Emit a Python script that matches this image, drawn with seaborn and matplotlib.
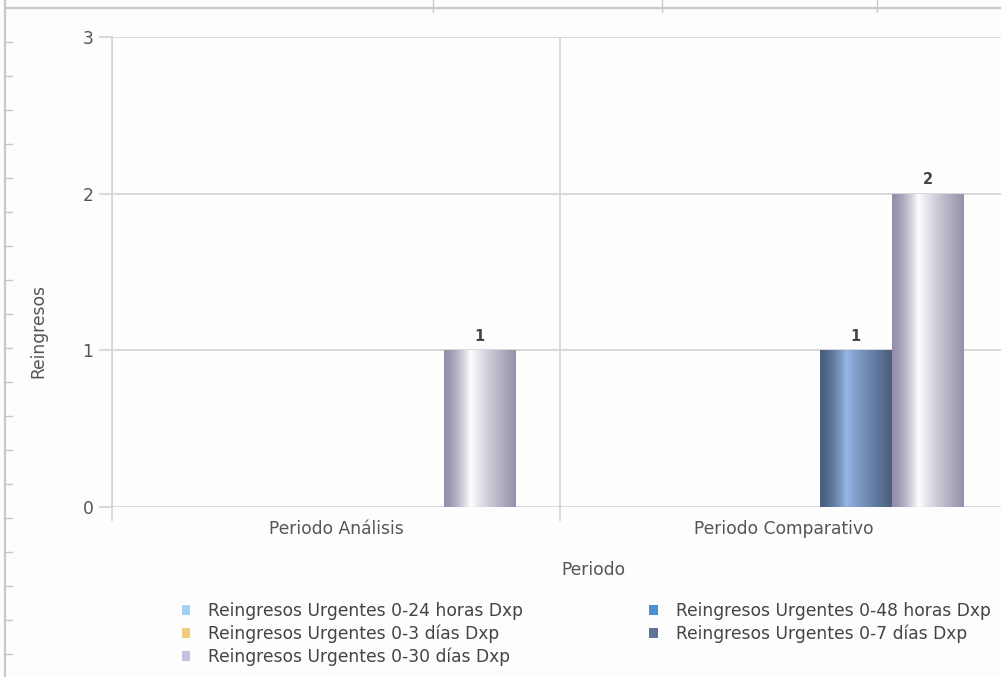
import numpy as np
import pandas as pd
import matplotlib
matplotlib.use("Agg")
import matplotlib.pyplot as plt
from matplotlib.lines import Line2D
from matplotlib.patches import Patch
from matplotlib.colors import to_rgb
import seaborn as sns

# ---- data ----
periodos = ["Periodo Análisis", "Periodo Comparativo"]
series = [
    "Reingresos Urgentes 0-24 horas Dxp",
    "Reingresos Urgentes 0-48 horas Dxp",
    "Reingresos Urgentes 0-3 días Dxp",
    "Reingresos Urgentes 0-7 días Dxp",
    "Reingresos Urgentes 0-30 días Dxp",
]
valores_analisis = [0, 0, 0, 0, 1]
valores_comparativo = [0, 0, 0, 1, 2]
y_ticks = [0, 1, 2, 3]

# flat legend colours and (edge, highlight) colours of the shaded bars
colores = ["#9fd2f6", "#4a8ed6", "#f1cc7c", "#5f7399", "#cabfe2"]
sombras = [
    ("#6f9cc0", "#d6efff"),
    ("#2f5f96", "#8fc0f0"),
    ("#b8924a", "#fff0c8"),
    ("#4a5e7e", "#97b8e8"),
    ("#968fab", "#ffffff"),
]

df = pd.DataFrame({
    "Periodo": np.repeat(periodos, len(series)),
    "Serie": series * len(periodos),
    "Reingresos": valores_analisis + valores_comparativo,
})

W, H = 1001, 677
FS = 12.3
sns.set_theme(style="white")
plt.rcParams["font.family"] = ["DejaVu Sans"]
fig = plt.figure(figsize=(W / 100, H / 100), dpi=100, facecolor="#fdfdfd")

ax_left, ax_bottom, ax_top = 112, 170, 640
ax = fig.add_axes([ax_left / W, ax_bottom / H, (W - ax_left) / W, (ax_top - ax_bottom) / H])
ax.set_facecolor("#fdfdfd")

sns.barplot(data=df, x="Periodo", y="Reingresos", hue="Serie", hue_order=series,
            order=periodos, palette=colores, width=0.8, ax=ax, linewidth=0,
            legend=False, zorder=3)

xlim = (-0.5, 1.484)
ylim = (0, 3)


def sombrear(patch, oscuro, claro):
    x0, y0 = patch.get_x(), patch.get_y()
    w, h = patch.get_width(), patch.get_height()
    if h <= 0:
        patch.set_visible(False)
        return
    t = np.linspace(0, 1, 400)
    pico = 0.37
    s = np.where(t < pico, (t / pico) ** 1.6,
                 1 - ((t - pico) / (1 - pico)) ** 0.85)
    c0, c1 = np.array(to_rgb(oscuro)), np.array(to_rgb(claro))
    img = c0[None, :] * (1 - s[:, None]) + c1[None, :] * s[:, None]
    im = ax.imshow(img[None, :, :], extent=[x0, x0 + w, y0, y0 + h],
                   aspect="auto", interpolation="bilinear", zorder=3)
    im.set_clip_path(patch)
    patch.set_facecolor("none")


for cont, (oscuro, claro) in zip(ax.containers, sombras):
    for bar in cont:
        sombrear(bar, oscuro, claro)
    vals = [b.get_height() for b in cont]
    ax.bar_label(cont, labels=[f"{v:g}" if v > 0 else "" for v in vals],
                 padding=4.5, fontsize=10.5, fontweight="bold", color="#444444")

ax.set_xlim(*xlim)
ax.set_ylim(*ylim)

grid_c = "#d6d6d6"
txt_c = "#555555"
for sp in ["top", "right", "bottom"]:
    ax.spines[sp].set_visible(False)
ax.spines["left"].set_color(grid_c)
ax.spines["left"].set_linewidth(1.3)
ax.spines["left"].set_zorder(1)

ax.set_yticks(y_ticks)
ax.yaxis.grid(True, color=grid_c, linewidth=1.3, zorder=0)
ax.tick_params(axis="y", length=9.5, width=1.3, color=grid_c, pad=4,
               labelsize=FS, labelcolor=txt_c, left=True)

# category boundaries with tick extensions below the axis
ax.set_xticks([-0.5, 0.5], minor=True)
ax.xaxis.grid(True, which="minor", color=grid_c, linewidth=1.3, zorder=0)
ax.tick_params(axis="x", which="minor", length=10, width=1.3, color=grid_c,
               direction="out", bottom=True)
ax.tick_params(axis="x", which="major", length=0, pad=9.5,
               labelsize=FS, labelcolor=txt_c)
ax.set_axisbelow(True)

ax.set_ylabel("Reingresos", fontsize=FS, color=txt_c)
ax.yaxis.set_label_coords(-0.073, 0.374)
ax.set_xlabel("Periodo", fontsize=FS, color=txt_c)
ax.xaxis.set_label_coords(0.542, -0.114)

# legend, two columns filled row by row
orden = [0, 2, 4, 1, 3]
handles = [Patch(facecolor=colores[i], edgecolor="none") for i in orden]
labels = [series[i] for i in orden]
fig.legend(handles, labels, ncol=2, loc="upper left",
           bbox_to_anchor=(181.5 / W, 1 - 602 / H), frameon=False,
           fontsize=FS, labelcolor="#444444", handlelength=0.51,
           handleheight=0.51, handletextpad=1.03, columnspacing=7.4,
           labelspacing=0.27, borderpad=0, borderaxespad=0)

# outer panel frame
frame_c = "#c8c8c8"
def px_line(xs, ys, lw=1.6):
    fig.add_artist(Line2D([x / W for x in xs], [1 - y / H for y in ys],
                          transform=fig.transFigure, color=frame_c, linewidth=lw))

px_line([5, W], [8, 8])
px_line([5, 5], [0, H])
for xt in [433, 662, 877]:
    px_line([xt, xt], [0, 12], lw=1.0)
for yt in np.arange(42, H, 34):
    px_line([5, 12], [yt, yt], lw=1.0)

fig.savefig("out.png", dpi=100, facecolor=fig.get_facecolor())
